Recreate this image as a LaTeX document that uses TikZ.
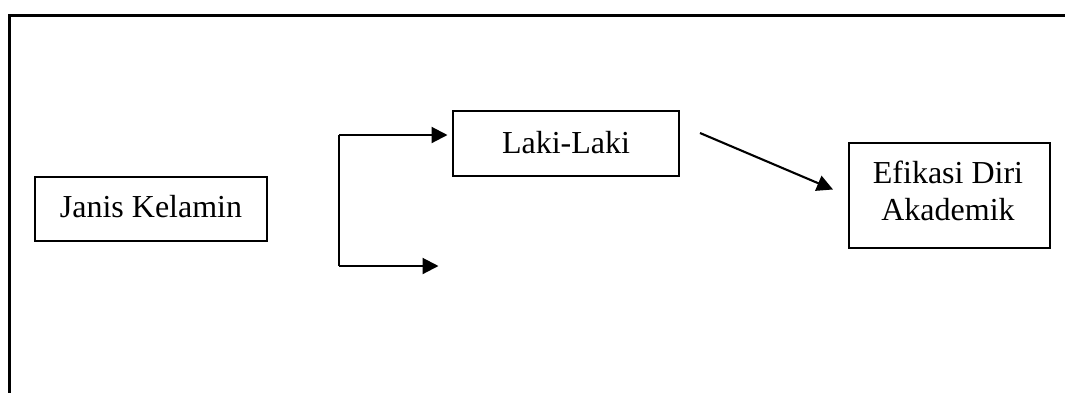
\documentclass[tikz,border=0pt]{standalone}
\usepackage{fontspec}
\setmainfont{Liberation Serif}
\usetikzlibrary{arrows.meta}
\tikzset{
  frameline/.style={line width=2.8pt, line cap=rect},
  boxnode/.style={draw, line width=2pt, inner sep=0pt},
  txt/.style={font=\fontsize{32}{36.5}\selectfont, inner sep=0pt, anchor=base, align=center},
  flow/.style={line width=2.1pt, -{Triangle[length=16pt, width=16pt]}},
  plain/.style={line width=2.1pt},
}
\begin{document}
\begin{tikzpicture}[x=1pt, y=-1pt]
  \useasboundingbox (0,0) rectangle (1065,392);
  % open outer frame: left and top edges only
  \coordinate (fbl) at (9.5,392);
  \coordinate (ftl) at (9.5,15.5);
  \coordinate (ftr) at (1066,15.5);
  \draw[frameline] (fbl) -- (ftl) -- (ftr);

  % boxes
  \node[boxnode, minimum width=232pt, minimum height=64pt] (jk) at (151,209) {};
  \node[txt] (jkt) at (151,217.5) {Janis Kelamin};

  \node[boxnode, minimum width=226pt, minimum height=65pt] (lk) at (566,143.5) {};
  \node[txt] (lkt) at (566,153.5) {Laki-Laki};

  \node[boxnode, minimum width=201pt, minimum height=105pt] (ed) at (949.5,195.5) {};
  % base anchor of a two-line node sits on the last line
  \node[txt] (edt) at (948,220) {Efikasi Diri\\Akademik};

  % branching bracket
  \coordinate (btop) at (339,135);
  \coordinate (bbot) at (339,266);
  \coordinate (up) at (447.5,135);
  \coordinate (low) at (438.5,266);
  \draw[plain] (btop) -- (bbot);
  \draw[flow] (btop) -- (up);
  \draw[flow] (bbot) -- (low);

  % diagonal link towards the outcome box
  \coordinate (ds) at (700,133);
  \coordinate (de) at (833,189.5);
  \draw[flow] (ds) -- (de);
\end{tikzpicture}
\end{document}
